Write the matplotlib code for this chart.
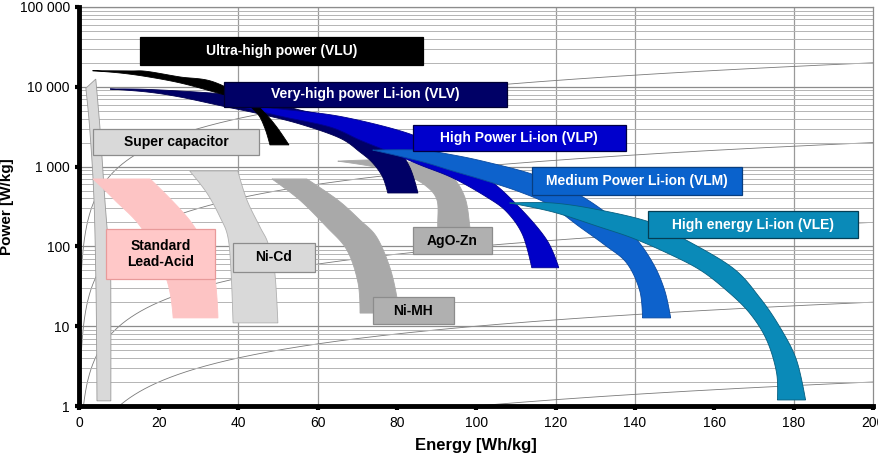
import matplotlib
matplotlib.use("Agg")
import matplotlib.pyplot as plt
from matplotlib.patches import Polygon, Rectangle
import numpy as np

plt.rcParams['font.family'] = ['Liberation Sans', 'DejaVu Sans']

# ---------------- data: outlines of each technology region (Energy Wh/kg, Power W/kg)
supercap_energy = [1.6, 4.1, 5.2, 6.4, 7.7, 7.9, 7.9, 4.4, 4.2, 3.65, 2.6]
supercap_power = [9600, 12500, 2870, 380, 55, 21, 1.16, 1.16, 21, 380, 2870]

leadacid_energy = [3.4, 17.8, 28.3, 33.6, 34.9, 23.6, 22.0, 16.0, 8.9]
leadacid_power = [700, 700, 196, 55, 12.7, 12.7, 38, 160, 380]

nicd_energy = [27.8, 39.9, 42.2, 45.5, 47.5, 49.2, 50.0, 38.7, 38.2, 37.4, 35.4, 32.1]
nicd_power = [880, 880, 381, 175, 110, 48, 11.0, 11.0, 48, 131, 234, 467]

nimh_energy = [48.5, 57.3, 65.1, 70.7, 74.9, 78.2, 80.0, 80.2, 70.7, 70.2, 67.4, 62.3, 55.5]
nimh_power = [700, 700, 381, 214, 131, 55, 23, 14.6, 14.6, 35, 90, 175, 381]

agozn_energy = [65.1, 75.7, 85.8, 93.3, 97.1, 98.4, 98.9, 90.8, 90.3, 90.1, 87.0, 82.0, 74.4]
agozn_power = [1170, 1210, 1080, 785, 416, 175, 104, 104, 175, 381, 588, 785, 990]

vlu_energy = [3.3, 12.7, 17.0, 25.3, 33.6, 42.9, 46.7, 49.7, 52.8,
              48.0, 46.7, 44.7, 40.4, 33.6, 25.3, 17.0, 10.2]
vlu_power = [15900, 15800, 15600, 13300, 11600, 6840, 4700, 3140, 1870,
             1870, 3050, 4700, 6840, 8690, 11200, 13400, 14900]

vlv_energy = [7.7, 17.8, 36.1, 45.5, 55.5, 63.9, 72.4, 79.0, 83.2, 85.3,
              77.7, 76.4, 73.9, 70.7, 65.6, 55.5, 45.5, 36.1, 25.3, 17.0]
vlv_power = [9380, 9250, 8130, 6840, 5120, 4190, 3140, 1980, 990, 467,
             467, 741, 1110, 1520, 2280, 3420, 4560, 5720, 7450, 8610]

vlp_energy = [37.9, 50.5, 66.4, 84.0, 90.8, 102.6, 111.0, 117.8, 120.8,
              114.0, 111.7, 107.7, 102.6, 94.1, 85.8, 78.2, 70.7, 63.1, 50.5]
vlp_power = [6090, 5270, 4190, 2490, 1480, 719, 303, 120, 54,
             54, 139, 270, 416, 719, 1050, 1520, 2150, 3140, 4300]

vlm_energy = [73.9, 85.8, 94.1, 102.6, 114.0, 123.6, 131.1, 139.4, 144.5, 147.5, 149.0,
              141.9, 141.2, 137.9, 132.4, 126.1, 118.5, 111.0, 102.6, 94.1, 85.8]
vlm_power = [1610, 1610, 1400, 1140, 807, 509, 303, 139, 62, 28, 12.7,
             12.7, 28, 62, 104, 175, 330, 481, 660, 880, 1170]

vle_energy = [108.4, 119.3, 131.1, 143.7, 152.0, 164.6, 171.4, 176.5, 180.7, 183.0,
              175.9, 175.7, 173.2, 168.9, 163.1, 156.3, 148.0, 139.4, 131.1, 119.3]
vle_power = [350, 350, 286, 202, 127, 54, 23, 9.8, 3.8, 1.19,
             1.19, 2.6, 6.7, 14.6, 28, 51, 83, 127, 175, 270]

# discharge-time reference lines (hours): P = E / t
discharge_hours = [100, 10, 1, 0.1, 0.01]

labels = ["Super capacitor", "Standard\nLead-Acid", "Ni-Cd", "Ni-MH", "AgO-Zn",
          "Ultra-high power (VLU)", "Very-high power Li-ion (VLV)",
          "High Power Li-ion (VLP)", "Medium Power Li-ion (VLM)",
          "High energy Li-ion (VLE)"]

x_ticks = [0, 20, 40, 60, 80, 100, 120, 140, 160, 180, 200]
y_ticks = [1, 10, 100, 1000, 10000, 100000]
y_ticklabels = ["1", "10", "100", "1 000", "10 000", "100 000"]


def smooth_outline(e, p, corners, n=16, sx=3.967, sy=79.8):
    """Hermite (Catmull-Rom) smoothing of a closed outline in screen-like
    (E, log P) space, keeping sharp corners at the given indices."""
    pts = np.column_stack([np.asarray(e, float) * sx, np.log10(p) * sy])
    N = len(pts)
    tang = np.zeros_like(pts)
    for i in range(N):
        if i not in corners:
            tang[i] = (pts[(i + 1) % N] - pts[(i - 1) % N]) / 2.0
    t = np.linspace(0, 1, n, endpoint=False)[:, None]
    h00 = 2 * t**3 - 3 * t**2 + 1
    h10 = t**3 - 2 * t**2 + t
    h01 = -2 * t**3 + 3 * t**2
    h11 = t**3 - t**2
    segs = []
    for i in range(N):
        j = (i + 1) % N
        segs.append(h00 * pts[i] + h10 * tang[i] + h01 * pts[j] + h11 * tang[j])
    out = np.vstack(segs)
    return np.column_stack([out[:, 0] / sx, 10 ** (out[:, 1] / sy)])


# ---------------- layout / style
fig = plt.figure(figsize=(8.79, 4.62), dpi=100)
ax = fig.add_axes([79.5 / 879, 1 - 406 / 462, (873 - 79.5) / 879, (406 - 7) / 462])
ax.set_xlim(0, 200)
ax.set_yscale('log')
ax.set_ylim(1, 100000)

ax.yaxis.grid(True, which='major', color='#8c8c8c', lw=0.9, zorder=0)
ax.yaxis.grid(True, which='minor', color='#b4b4b4', lw=0.7, zorder=0)
for xv in [40, 60, 120, 140, 180]:
    ax.axvline(xv, color='#9a9a9a', lw=0.9, zorder=0.5)

e_line = np.linspace(0.001, 200, 2000)
for t in discharge_hours:
    ax.plot(e_line, e_line / t, color='#7a7a7a', lw=0.6, zorder=1)

shapes = [
    (supercap_energy, supercap_power, {0, 1, 6, 7}, '#d9d9d9', '#9a9a9a'),
    (leadacid_energy, leadacid_power, {0, 1, 4, 5}, '#fdc4c4', '#fdc4c4'),
    (nicd_energy, nicd_power, {0, 1, 6, 7}, '#d9d9d9', '#b0b0b0'),
    (nimh_energy, nimh_power, {0, 1, 7, 8}, '#a9a9a9', '#a9a9a9'),
    (agozn_energy, agozn_power, {0, 6, 7}, '#a9a9a9', '#a9a9a9'),
    (vlv_energy, vlv_power, {0, 9, 10}, '#000066', '#000050'),
    (vlp_energy, vlp_power, {0, 8, 9}, '#0000c8', '#000090'),
    (vlm_energy, vlm_power, {0, 10, 11}, '#0d62cc', '#0a4aa0'),
    (vle_energy, vle_power, {0, 9, 10}, '#0a8ab8', '#065f80'),
    (vlu_energy, vlu_power, {0, 8, 9}, '#000000', '#000000'),
]
for i, (e, p, corners, fc, ec) in enumerate(shapes):
    ax.add_patch(Polygon(smooth_outline(e, p, corners), closed=True, facecolor=fc,
                         edgecolor=ec, lw=0.6, zorder=2 + i * 0.1))

boxes = [
    (3.4, 45.2, 1400, 2960, '#d9d9d9', '#8c8c8c', 'black'),
    (6.7, 34.1, 39, 165, '#ffc8c8', '#e89a9a', 'black'),
    (38.7, 59.3, 48, 110, '#d9d9d9', '#8c8c8c', 'black'),
    (73.9, 94.3, 10.7, 23, '#b0b0b0', '#8c8c8c', 'black'),
    (84.0, 103.9, 80, 175, '#b0b0b0', '#8c8c8c', 'black'),
    (15.2, 86.5, 18800, 42100, '#000000', '#000000', 'white'),
    (36.4, 107.7, 5580, 11500, '#000066', '#000033', 'white'),
    (84.0, 137.7, 1570, 3320, '#0000cc', '#000044', 'white'),
    (114.0, 166.9, 441, 990, '#0a62cc', '#083e80', 'white'),
    (143.2, 196.1, 127, 278, '#0a8ab8', '#053e55', 'white'),
]
for lab, (x0, x1, y0, y1, fc, ec, tc) in zip(labels, boxes):
    ax.add_patch(Rectangle((x0, y0), x1 - x0, y1 - y0, facecolor=fc,
                           edgecolor=ec, lw=0.9, zorder=5))
    ax.text((x0 + x1) / 2, np.sqrt(y0 * y1), lab, ha='center', va='center',
            color=tc, fontsize=10, fontweight='bold', zorder=6, linespacing=1.15)

ax.set_xticks(x_ticks)
ax.set_yticks(y_ticks, y_ticklabels)
ax.tick_params(axis='both', which='major', labelsize=10, length=3, width=3,
               color='black', pad=4)
ax.tick_params(axis='y', which='minor', length=0)
ax.yaxis.set_minor_formatter(matplotlib.ticker.NullFormatter())
for s in ['left', 'bottom']:
    ax.spines[s].set_linewidth(3.5)
    ax.spines[s].set_color('black')
    ax.spines[s].set_zorder(7)
for s in ['top', 'right']:
    ax.spines[s].set_linewidth(0.9)
    ax.spines[s].set_color('#8c8c8c')

ax.set_xlabel("Energy [Wh/kg]", fontsize=12, fontweight='bold', labelpad=6)
ax.set_ylabel("Power [W/kg]", fontsize=11, fontweight='bold', labelpad=4)

fig.savefig("out.png", dpi=100)
